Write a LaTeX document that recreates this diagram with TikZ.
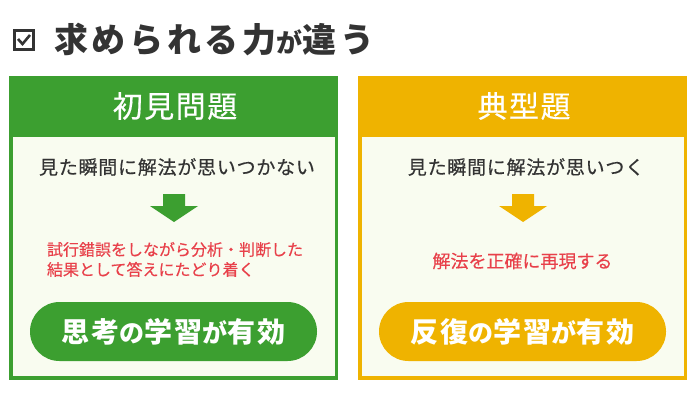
\documentclass[tikz,border=0pt]{standalone}
\usepackage{fontspec}
\newfontfamily\jp{Noto Sans CJK JP}
\newfontfamily\jpm[FakeBold=0.4]{Noto Sans CJK JP}
\newfontfamily\jphead[FakeBold=0.4,LetterSpace=5]{Noto Sans CJK JP}
\newfontfamily\jpbody[FakeBold=0.4,LetterSpace=4]{Noto Sans CJK JP}
\newfontfamily\jptitle[LetterSpace=11]{Noto Sans CJK JP}
\newfontfamily\jppill[LetterSpace=7]{Noto Sans CJK JP}
\definecolor{cgreen}{HTML}{3C9F30}
\definecolor{cyellow}{HTML}{EFB300}
\definecolor{cpale}{HTML}{F9FCF0}
\definecolor{cred}{HTML}{E8404A}
\definecolor{cdark}{HTML}{333333}
\newcommand{\fs}[1]{\fontsize{#1pt}{#1pt}\selectfont}
\begin{document}
\begin{tikzpicture}[x=1pt,y=-1pt,
  every node/.style={inner sep=0pt, outer sep=0pt, font=\jp},
  headtxt/.style={text=white, font=\jphead\fs{30}},
  bodytxt/.style={text=cdark, font=\jpbody\fs{19}},
  redtxt/.style={text=cred, font=\jpm\fs{16}, align=left},
  pill/.style={rounded corners=29.5pt, minimum width=287pt, minimum height=59pt, text=white, font=\jppill\bfseries},
]
\useasboundingbox (0,0) rectangle (700,410);
\fill[white] (0,0) rectangle (700,410);
% title
\node[draw=cdark, line width=3pt, minimum width=19.5pt, minimum height=19.5pt] (chk) at (24,40) {};
\draw[cdark, line width=2.6pt] ([shift={(-6,-1)}]chk.center) -- ([shift={(-1.5,4)}]chk.center) -- ([shift={(6,-5)}]chk.center);
\node[anchor=west, text=cdark, font=\jptitle\bfseries] (title) at (54,40) {{\fs{34}求められる力}{\fs{26}が}{\fs{34}違う}};
% left panel
\fill[cgreen] (9,76) rectangle (338,379.5);
\fill[cpale] (12.5,137) rectangle (334.5,376);
\node[headtxt] (lhead) at (175,106) {初見問題};
\node[bodytxt] (lbody) at (177,167) {見た瞬間に解法が思いつかない};
\fill[cgreen] (163,194) -- (185,194) -- (185,206) -- (198,206) -- (174,222) -- (150,206) -- (163,206) -- cycle;
\node[redtxt, anchor=north west] (lred) at (47,242) {試行錯誤をしながら分析・判断した\\[4pt]結果として答えにたどり着く};
\node[pill, fill=cgreen] (lpill) at (173.5,331.5) {{\fs{28}思考}{\fs{25}の}{\fs{28}学習}{\fs{25}が}{\fs{28}有効}};
% right panel
\fill[cyellow] (358,76) rectangle (687,379.5);
\fill[cpale] (361.5,137) rectangle (683.5,376);
\node[headtxt] (rhead) at (524,106) {典型題};
\node[bodytxt] (rbody) at (526,167) {見た瞬間に解法が思いつく};
\fill[cyellow] (512,194) -- (534,194) -- (534,206) -- (547,206) -- (523,222) -- (499,206) -- (512,206) -- cycle;
\node[redtxt, font=\jpm\fs{18}] (rred) at (522.5,261) {解法を正確に再現する};
\node[pill, fill=cyellow] (rpill) at (522.5,331.5) {{\fs{28}反復}{\fs{25}の}{\fs{28}学習}{\fs{25}が}{\fs{28}有効}};
\end{tikzpicture}
\end{document}
